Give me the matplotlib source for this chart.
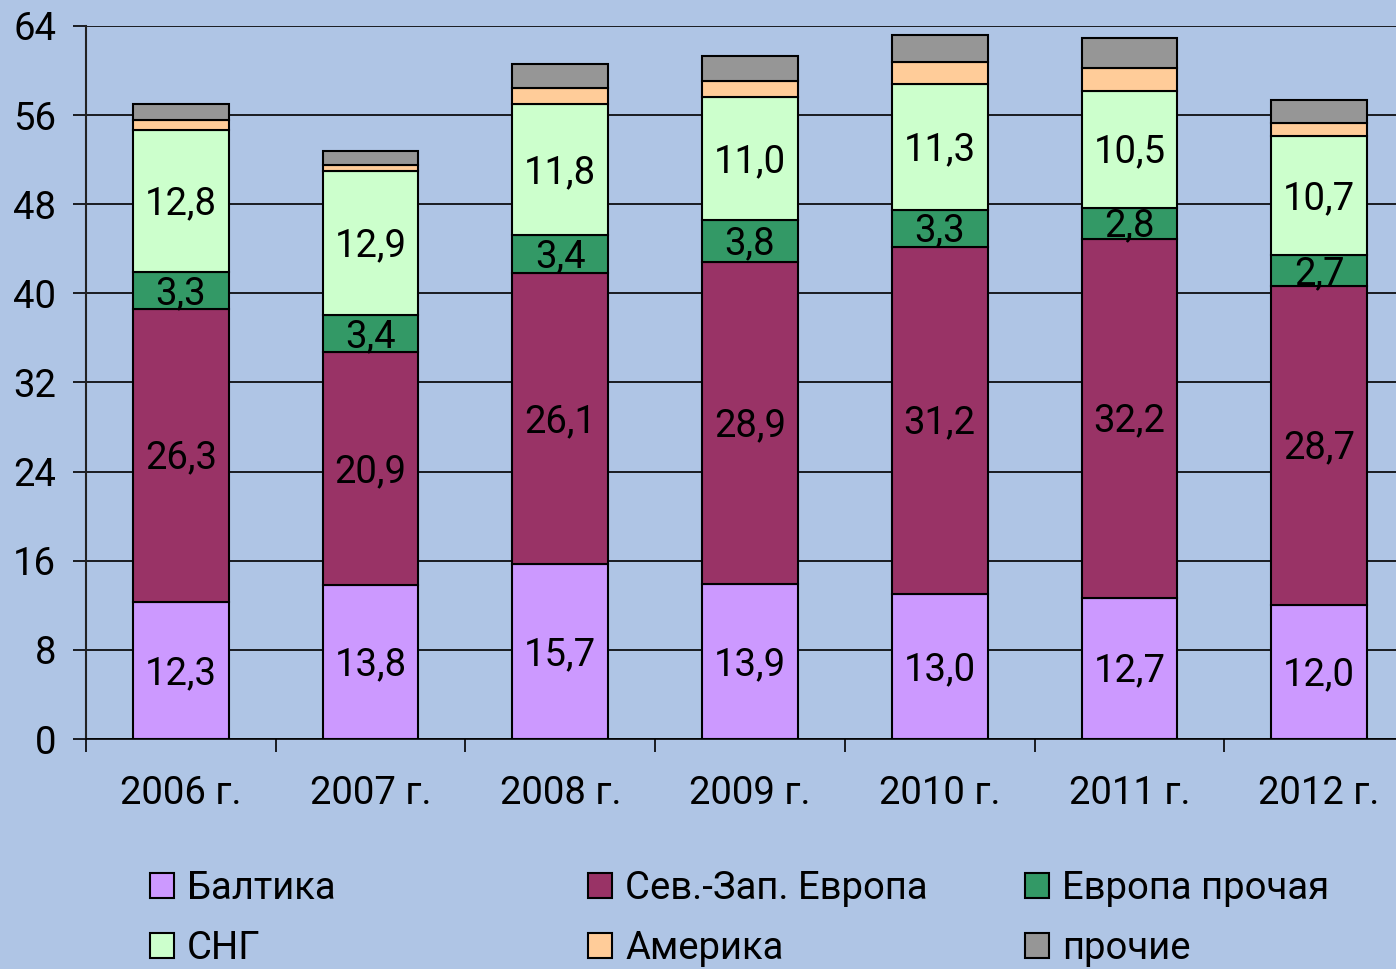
import matplotlib
matplotlib.use("Agg")
import matplotlib.pyplot as plt
from matplotlib.patches import Patch
import numpy as np

plt.rcParams['font.family'] = ['Roboto', 'DejaVu Sans']

years = ["2006 г.", "2007 г.", "2008 г.", "2009 г.", "2010 г.", "2011 г.", "2012 г."]
baltika = [12.3, 13.8, 15.7, 13.9, 13.0, 12.7, 12.0]
sevzap = [26.3, 20.9, 26.1, 28.9, 31.2, 32.2, 28.7]
europe_other = [3.3, 3.4, 3.4, 3.8, 3.3, 2.8, 2.7]
cis = [12.8, 12.9, 11.8, 11.0, 11.3, 10.5, 10.7]
america = [0.9, 0.5, 1.45, 1.45, 2.0, 2.0, 1.2]
others = [1.4, 1.3, 2.1, 2.25, 2.4, 2.75, 2.1]

series_names = ["Балтика", "Сев.-Зап. Европа", "Европа прочая", "СНГ", "Америка", "прочие"]
series_values = [baltika, sevzap, europe_other, cis, america, others]
colors = ["#CC99FF", "#993366", "#339966", "#CCFFCC", "#FFCC99", "#969696"]
labeled = [True, True, True, True, False, False]
yticks = [0, 8, 16, 24, 32, 40, 48, 56, 64]

bg = "#AFC5E5"
W, H = 1396, 969
fig = plt.figure(figsize=(W / 100, H / 100), dpi=100, facecolor=bg)
ax = fig.add_axes([86 / W, (H - 739) / H, (1414 - 86) / W, (739 - 26) / H])
ax.set_facecolor(bg)

x = np.arange(len(years))
bottom = np.zeros(len(years))
fs = 27.5
for name, vals, col, lab in zip(series_names, series_values, colors, labeled):
    vals = np.array(vals)
    ax.bar(x, vals, width=0.505, bottom=bottom, color=col, edgecolor="black",
           linewidth=1.5, label=name, zorder=3)
    if lab:
        for xi, b, v in zip(x, bottom, vals):
            ax.text(xi, b + v / 2 - 0.25, f"{v:.1f}".replace(".", ","), ha="center", va="center",
                    fontsize=fs, color="black", zorder=4)
    bottom = bottom + vals

ax.set_xlim(-0.5, len(years) - 0.5)
ax.set_ylim(0, 64)
ax.set_yticks(yticks)
ax.set_yticklabels([str(t) for t in yticks], fontsize=fs)
ax.yaxis.grid(True, color="black", linewidth=1.2, zorder=0)
ax.set_axisbelow(True)
ax.tick_params(axis="y", direction="out", length=9.5, width=1.2, pad=12, color="black")

ax.set_xticks(x)
ax.set_xticklabels(years, fontsize=fs)
ax.set_xticks(np.arange(-0.5, len(years) + 0.5, 1.0), minor=True)
ax.tick_params(axis="x", which="major", length=0, pad=26)
ax.tick_params(axis="x", which="minor", direction="out", length=9, width=1.2, color="black")

for s in ["top", "right"]:
    ax.spines[s].set_visible(False)
ax.spines["left"].set_color("#222222")
ax.spines["left"].set_linewidth(1.5)
ax.spines["bottom"].set_color("black")
ax.spines["bottom"].set_linewidth(1.2)

handles = [Patch(facecolor=c, edgecolor="black", linewidth=1.5) for c in colors]
cols = [(0, 3), (1, 4), (2, 5)]
col_x = [150, 588, 1025]
for (i, j), cx in zip(cols, col_x):
    fig.legend([handles[i], handles[j]], [series_names[i], series_names[j]],
               loc="upper left", bbox_to_anchor=(cx / W, 1 - 870 / H),
               frameon=False, fontsize=fs, handlelength=0.62, handleheight=0.62,
               handletextpad=0.35, labelspacing=0.6, borderpad=0, borderaxespad=0)

fig.savefig("out.png", dpi=100, facecolor=bg)
